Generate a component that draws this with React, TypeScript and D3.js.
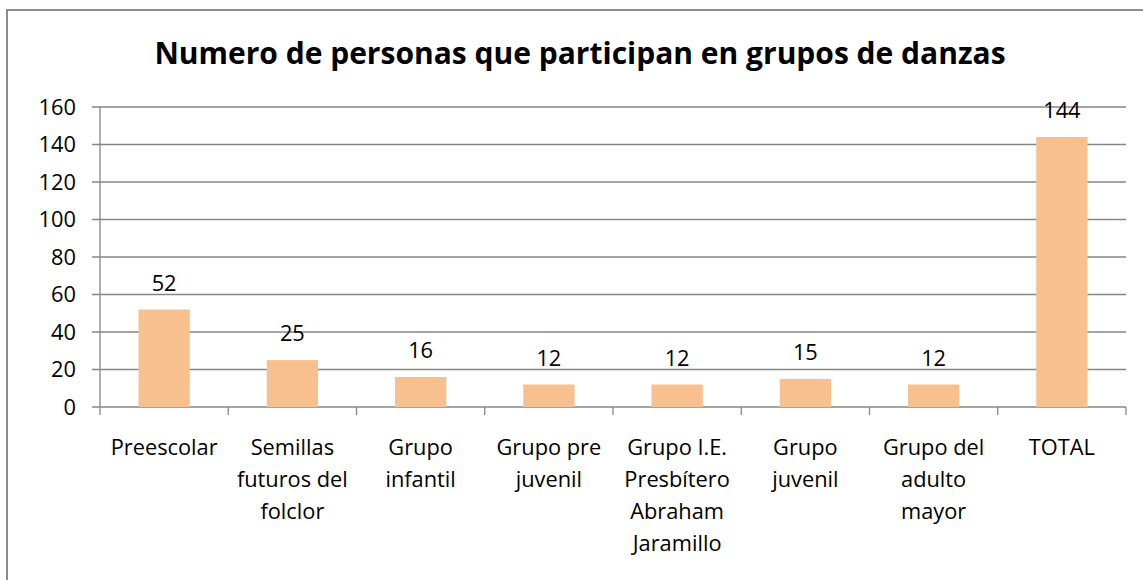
import React from "react";
import * as d3 from "d3";

const categories: string[][] = [
  ["Preescolar"],
  ["Semillas", "futuros del", "folclor"],
  ["Grupo", "infantil"],
  ["Grupo pre", "juvenil"],
  ["Grupo I.E.", "Presbítero", "Abraham", "Jaramillo"],
  ["Grupo", "juvenil"],
  ["Grupo del", "adulto", "mayor"],
  ["TOTAL"],
];
const values: number[] = [52, 25, 16, 12, 12, 15, 12, 144];
const yTicks: number[] = [0, 20, 40, 60, 80, 100, 120, 140, 160];
const title = "Numero de personas que participan en grupos de danzas";

const W = 1143;
const H = 580;
const FONT = "'Open Sans', 'Noto Sans', sans-serif";

export default function App() {
  const left = 100;
  const right = 1126;
  const top = 107;
  const bottom = 407;
  const keys = categories.map((_, i) => String(i));
  const x = d3.scaleBand<string>().domain(keys).range([left, right]).paddingInner(0.6).paddingOuter(0.3);
  const xEdges = d3.scaleLinear().domain([0, categories.length]).range([left, right]);
  const y = d3.scaleLinear().domain([0, 160]).range([bottom, top]);
  const grid = "#868686";
  const fs = 21.8;

  return (
    <svg width={W} height={H} style={{ position: "absolute", left: 0, top: 0, background: "#fff" }}>
      <rect x={7} y={10} width={1140} height={580} fill="#fff" stroke="#8c8c8c" strokeWidth={2} />
      <text x={580} y={64} textAnchor="middle" fontFamily={FONT} fontWeight="bold" fontSize={30} fill="#000">
        {title}
      </text>
      {yTicks.map((t) => (
        <g key={t}>
          <line x1={92} x2={right} y1={y(t)} y2={y(t)} stroke={grid} strokeWidth={1.3} />
          <text x={76} y={y(t)} dy="0.36em" textAnchor="end" fontFamily={FONT} fontSize={fs} fill="#000">
            {t}
          </text>
        </g>
      ))}
      <line x1={left} x2={left} y1={top} y2={bottom} stroke={grid} strokeWidth={1.3} />
      {d3.range(categories.length + 1).map((i) => (
        <line key={i} x1={xEdges(i)} x2={xEdges(i)} y1={bottom} y2={bottom + 8} stroke={grid} strokeWidth={1.3} />
      ))}
      {values.map((v, i) => (
        <g key={i}>
          <rect x={x(String(i))} y={y(v)} width={x.bandwidth()} height={y(0) - y(v)} fill="#F9C08F" />
          <text
            x={(x(String(i)) as number) + x.bandwidth() / 2}
            y={y(v) - 19}
            textAnchor="middle"
            fontFamily={FONT}
            fontSize={fs}
            fill="#000"
          >
            {v}
          </text>
        </g>
      ))}
      {categories.map((lines, i) => (
        <text
          key={i}
          x={(x(String(i)) as number) + x.bandwidth() / 2}
          textAnchor="middle"
          fontFamily={FONT}
          fontSize={fs}
          fill="#000"
        >
          {lines.map((l, j) => (
            <tspan key={j} x={(x(String(i)) as number) + x.bandwidth() / 2} y={455 + j * 32}>
              {l}
            </tspan>
          ))}
        </text>
      ))}
    </svg>
  );
}
